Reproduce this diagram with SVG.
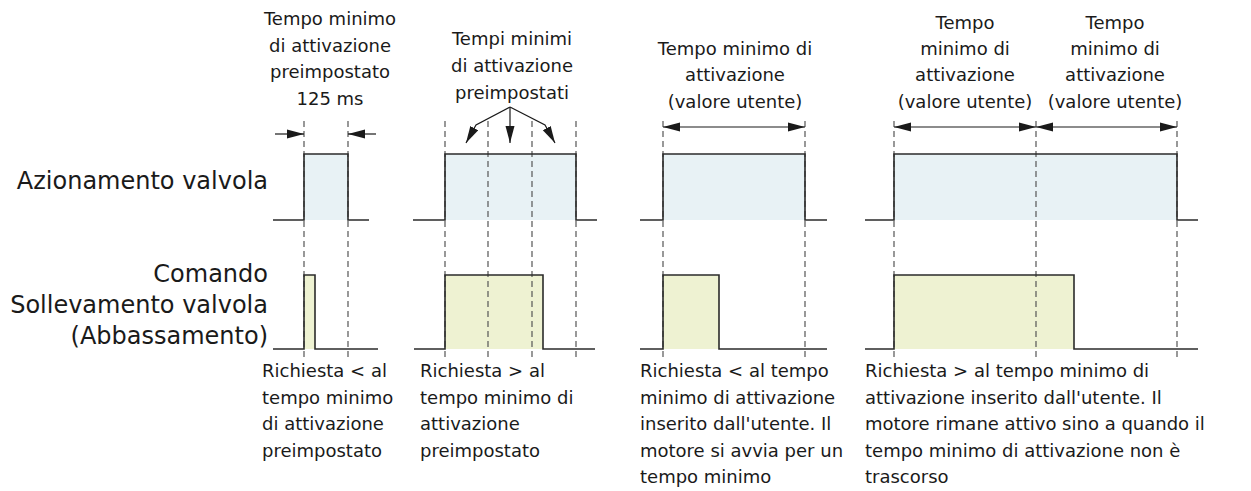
<svg xmlns="http://www.w3.org/2000/svg" width="1251" height="491" viewBox="0 0 1251 491">
<style>
text{font-family:"DejaVu Sans","Liberation Sans",sans-serif;fill:#1a1a1a}
.lbl{font-size:24px;text-anchor:end}
.ann{font-size:18px;text-anchor:middle}
.note{font-size:18px}
.sig{fill:none;stroke:#2b2b2b;stroke-width:1.6}
.fb{fill:#e8f2f5;stroke:none}
.fy{fill:#eef2d2;stroke:none}
.dash{stroke:#555;stroke-width:1.2;stroke-dasharray:6 4;fill:none}
.arr{stroke:#1a1a1a;stroke-width:1.2;fill:none}
</style>
<defs>
<marker id="ah" markerUnits="userSpaceOnUse" markerWidth="18" markerHeight="10" refX="17" refY="5" orient="auto-start-reverse" viewBox="0 0 18 10">
<path d="M0,0.5 L17,5 L0,9.5 Z" fill="#1a1a1a"/>
</marker>
</defs>

<g id="labels">
<text class="lbl" x="268" y="189">Azionamento valvola</text>
<text class="lbl" x="268" y="282">Comando</text>
<text class="lbl" x="268" y="313">Sollevamento valvola</text>
<text class="lbl" x="268" y="344">(Abbassamento)</text>
</g>

<g id="panel1">
<rect class="fb" x="304" y="154" width="44" height="66"/>
<rect class="fy" x="304" y="275" width="11" height="74"/>
<text class="ann" x="330" y="25">Tempo minimo</text>
<text class="ann" x="330" y="52">di attivazione</text>
<text class="ann" x="330" y="78">preimpostato</text>
<text class="ann" x="330" y="105">125 ms</text>
<text class="note" x="262" y="377">Richiesta &lt; al</text>
<text class="note" x="262" y="404">tempo minimo</text>
<text class="note" x="262" y="430">di attivazione</text>
<text class="note" x="262" y="457">preimpostato</text>
</g>

<g id="panel2">
<rect class="fb" x="445" y="154" width="131" height="66"/>
<rect class="fy" x="445" y="275" width="98" height="74"/>
<text class="ann" x="512" y="45">Tempi minimi</text>
<text class="ann" x="512" y="72">di attivazione</text>
<text class="ann" x="512" y="99">preimpostati</text>
<text class="note" x="420" y="377">Richiesta &gt; al</text>
<text class="note" x="420" y="404">tempo minimo di</text>
<text class="note" x="420" y="430">attivazione</text>
<text class="note" x="420" y="457">preimpostato</text>
</g>

<g id="panel3">
<rect class="fb" x="663" y="154" width="142" height="66"/>
<rect class="fy" x="663" y="275" width="56" height="74"/>
<text class="ann" x="735" y="55">Tempo minimo di</text>
<text class="ann" x="735" y="81">attivazione</text>
<text class="ann" x="735" y="108">(valore utente)</text>
<text class="note" x="640" y="377">Richiesta &lt; al tempo</text>
<text class="note" x="640" y="404">minimo di attivazione</text>
<text class="note" x="640" y="430">inserito dall'utente. Il</text>
<text class="note" x="640" y="457">motore si avvia per un</text>
<text class="note" x="640" y="483">tempo minimo</text>
</g>

<g id="panel4">
<rect class="fb" x="894" y="154" width="283" height="66"/>
<rect class="fy" x="894" y="275" width="180" height="74"/>
<text class="ann" x="965" y="29">Tempo</text>
<text class="ann" x="965" y="55">minimo di</text>
<text class="ann" x="965" y="81">attivazione</text>
<text class="ann" x="965" y="108">(valore utente)</text>
<text class="ann" x="1115" y="29">Tempo</text>
<text class="ann" x="1115" y="55">minimo di</text>
<text class="ann" x="1115" y="81">attivazione</text>
<text class="ann" x="1115" y="108">(valore utente)</text>
<text class="note" x="865" y="377">Richiesta &gt; al tempo minimo di</text>
<text class="note" x="865" y="404">attivazione inserito dall'utente. Il</text>
<text class="note" x="865" y="430">motore rimane attivo sino a quando il</text>
<text class="note" x="865" y="457">tempo minimo di attivazione non è</text>
<text class="note" x="865" y="483">trascorso</text>
</g>

<g id="guides">
<path class="dash" d="M304,121V358 M348,121V358 M445,121V358 M488,121V358 M532,121V358 M576,121V358 M663,121V358 M805,121V358 M894,121V358 M1036,121V358 M1177,121V358"/>
</g>

<g id="signals">
<path class="sig" d="M273,220H304V154H348V220H369"/>
<path class="sig" d="M273,349H304V275H315V349H378"/>
<path class="sig" d="M413,220H445V154H576V220H597"/>
<path class="sig" d="M414,349H445V275H543V349H595"/>
<path class="sig" d="M640,220H663V154H805V220H827"/>
<path class="sig" d="M640,349H663V275H719V349H827"/>
<path class="sig" d="M865,220H894V154H1177V220H1198"/>
<path class="sig" d="M865,349H894V275H1074V349H1198"/>
</g>

<g id="connectors">
<path class="arr" d="M275,134H304" marker-end="url(#ah)"/>
<path class="arr" d="M376,134H348" marker-end="url(#ah)"/>
<path class="arr" d="M510,107L476,125L466,143" marker-end="url(#ah)"/>
<path class="arr" d="M510,107V143" marker-end="url(#ah)"/>
<path class="arr" d="M510,107L545,125L555,143" marker-end="url(#ah)"/>
<path class="arr" d="M663,127H805" marker-start="url(#ah)" marker-end="url(#ah)"/>
<path class="arr" d="M894,127H1036" marker-start="url(#ah)" marker-end="url(#ah)"/>
<path class="arr" d="M1036,127H1177" marker-start="url(#ah)" marker-end="url(#ah)"/>
</g>
</svg>
